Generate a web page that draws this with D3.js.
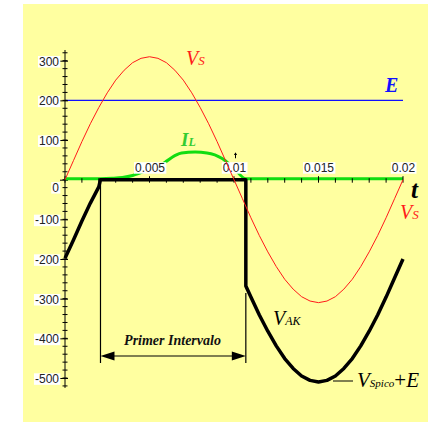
<!DOCTYPE html>
<html>
<head>
<meta charset="utf-8">
<script src="https://cdn.jsdelivr.net/npm/d3@7"></script>
<style>
  body { margin: 0; background: #ffffff; }
  svg { display: block; }
</style>
</head>
<body>
<svg id="chart" width="428" height="422"></svg>
<script>
// Source voltage Vs (V) sampled over one 50 Hz period
const vsTime = [0, 0.0005, 0.001, 0.0015, 0.002, 0.0025, 0.003, 0.0035, 0.004, 0.0045,
  0.005, 0.0055, 0.006, 0.0065, 0.007, 0.0075, 0.008, 0.0085, 0.009, 0.0095,
  0.01, 0.0105, 0.011, 0.0115, 0.012, 0.0125, 0.013, 0.0135, 0.014, 0.0145,
  0.015, 0.0155, 0.016, 0.0165, 0.017, 0.0175, 0.018, 0.0185, 0.019, 0.0195, 0.02];
const vsValues = [0, 48, 96, 141, 182, 219, 251, 276, 295, 306,
  310, 306, 295, 276, 251, 219, 182, 141, 96, 48,
  0, -48, -96, -141, -182, -219, -251, -276, -295, -306,
  -310, -306, -295, -276, -251, -219, -182, -141, -96, -48, 0];

// Battery level E (V)
const eLevel = 200;

// Thyristor anode-cathode voltage V_AK (V)
const vakTime = [0, 0.0005, 0.001, 0.0015, 0.002, 0.0021, 0.0107, 0.0107, 0.011, 0.0115,
  0.012, 0.0125, 0.013, 0.0135, 0.014, 0.0145, 0.015, 0.0155, 0.016, 0.0165,
  0.017, 0.0175, 0.018, 0.0185, 0.019, 0.0195, 0.02];
const vakValues = [-198, -152, -104, -59, -18, 0, 0, -268, -296, -341,
  -382, -419, -451, -476, -495, -506, -510, -506, -495, -476,
  -451, -419, -382, -341, -296, -248, -200];

// Load current I_L (scaled)
const ilTime = [0, 0.0021, 0.0028, 0.0034, 0.0040, 0.0050, 0.0059, 0.0065, 0.0069, 0.0077,
  0.0084, 0.0093, 0.0100, 0.0107, 0.02];
const ilValues = [0, 0, 1, 3, 8, 24, 41, 58, 65, 67,
  65, 51, 26, 0, 0];

// Conduction interval limits (s)
const intervalStart = 0.0021;
const intervalEnd = 0.0107;

// Tick labels
const xTickLabels = [0.005, 0.01, 0.015, 0.02];
const yTickLabels = [300, 200, 100, 0, -100, -200, -300, -400, -500];

const svg = d3.select("#chart");
const serif = "'Liberation Serif', 'Times New Roman', serif";
const sans = "'Liberation Sans', Arial, sans-serif";

// Panel background
svg.append("rect").attr("x", 23).attr("y", 4).attr("width", 405).attr("height", 418)
  .attr("fill", "#ffffa0");

const x = d3.scaleLinear().domain([0, 0.02]).range([65, 403]);
const y = d3.scaleLinear().domain([-500, 300]).range([378, 60.7]);

const zip = (ts, vs) => ts.map((t, i) => [t, vs[i]]);
const line = d3.line().x(d => x(d[0])).y(d => y(d[1]));

// Battery level E
svg.append("line")
  .attr("x1", x(0)).attr("x2", x(0.02))
  .attr("y1", y(eLevel)).attr("y2", y(eLevel))
  .attr("stroke", "#1010ff").attr("stroke-width", 1.4);

// Y axis: main line, minor ticks and labelled ticks
const yAxisG = svg.append("g").attr("transform", `translate(${x(0)},0)`);
yAxisG.append("line").attr("y1", y(327)).attr("y2", y(-525))
  .attr("stroke", "#000").attr("stroke-width", 1);
const yMinor = d3.range(-520, 321, 20);
yAxisG.selectAll("line.minor").data(yMinor).join("line")
  .attr("class", "minor")
  .attr("x1", -2.5).attr("x2", 2.5)
  .attr("y1", d => y(d)).attr("y2", d => y(d))
  .attr("stroke", "#000").attr("stroke-width", 1);

const yAxis = d3.axisLeft(y).tickValues(yTickLabels).tickSize(5).tickPadding(1)
  .tickFormat(d => String(d));
const yAx = svg.append("g").attr("transform", `translate(${x(0)},0)`).call(yAxis);
yAx.select(".domain").remove();
yAx.selectAll(".tick line").attr("x2", -5).attr("x1", 3).attr("stroke", "#000");
yAx.selectAll(".tick text")
  .attr("font-family", sans).attr("font-size", 12).attr("fill", "#222")
  .attr("dy", d => d === 0 ? "0.95em" : "0.36em");

// Load current I_L (green), runs along the time axis when zero
svg.append("path").datum(zip(ilTime, ilValues))
  .attr("d", line.curve(d3.curveMonotoneX))
  .attr("fill", "none").attr("stroke", "#11dd11").attr("stroke-width", 3)
  .attr("transform", "translate(0,-1)");

// V_AK (thick black)
svg.append("path").datum(zip(vakTime, vakValues))
  .attr("d", d3.line().x(d => x(d[0])).y(d => y(d[1])))
  .attr("fill", "none").attr("stroke", "#000").attr("stroke-width", 3.5)
  .attr("stroke-linejoin", "round");

// X axis ticks crossing the zero line
const xAxisG = svg.append("g");
xAxisG.selectAll("line.xt").data(x.ticks(20)).join("line")
  .attr("class", "xt")
  .attr("x1", d => x(d)).attr("x2", d => x(d))
  .attr("y1", d => Math.abs(d / 0.005 - Math.round(d / 0.005)) < 1e-6 ? y(0) - 3.5 : y(0) - 1.5)
  .attr("y2", y(0) + 3)
  .attr("stroke", "#000").attr("stroke-width", 1);

const xAxis = d3.axisTop(x).tickValues(xTickLabels).tickSize(0).tickPadding(8)
  .tickFormat(d => String(+d.toFixed(3)));
const xAx = svg.append("g").attr("transform", `translate(0,${y(0)})`).call(xAxis);
xAx.select(".domain").remove();
xAx.selectAll(".tick text")
  .attr("font-family", sans).attr("font-size", 12).attr("fill", "#222");

// White boxes behind the tick labels
function boxLabels(sel) {
  sel.selectAll(".tick text").each(function () {
    const b = this.getBBox();
    d3.select(this.parentNode).insert("rect", "text")
      .attr("x", b.x - 1).attr("y", b.y + 1.5)
      .attr("width", b.width + 2).attr("height", b.height - 2.5)
      .attr("fill", "#fff");
  });
}
boxLabels(yAx);
boxLabels(xAx);
[yAx, xAx].forEach(g => g.attr("font-size", null).attr("font-family", null));

// Small mark above 0.01
svg.append("path")
  .attr("d", `M${x(0.01) + 1.5},${y(68)} V${y(54)} M${x(0.01)},${y(64)} H${x(0.01) + 3}`)
  .attr("stroke", "#000").attr("stroke-width", 1).attr("fill", "none");

// Source voltage Vs (thin red)
svg.append("path").datum(zip(vsTime, vsValues))
  .attr("d", d3.line().x(d => x(d[0])).y(d => y(d[1])))
  .attr("fill", "none").attr("stroke", "#ff1a1a").attr("stroke-width", 1);

// Conduction interval bracket
const bracketY = 356;
svg.append("line").attr("x1", x(intervalStart)).attr("x2", x(intervalStart))
  .attr("y1", y(0)).attr("y2", 363).attr("stroke", "#000").attr("stroke-width", 1.2);
svg.append("line").attr("x1", x(intervalEnd)).attr("x2", x(intervalEnd))
  .attr("y1", 293).attr("y2", 363).attr("stroke", "#000").attr("stroke-width", 1.2);
svg.append("line").attr("x1", x(intervalStart) + 6).attr("x2", x(intervalEnd) - 6)
  .attr("y1", bracketY).attr("y2", bracketY).attr("stroke", "#000").attr("stroke-width", 1.2);
const xs = x(intervalStart), xe = x(intervalEnd);
svg.append("path")
  .attr("d", `M${xs},${bracketY} L${xs + 14},${bracketY - 4.5} L${xs + 14},${bracketY + 4.5} Z
              M${xe},${bracketY} L${xe - 14},${bracketY - 4.5} L${xe - 14},${bracketY + 4.5} Z`)
  .attr("fill", "#000");

// Text annotations
function label(xp, yp, parts, color) {
  const t = svg.append("text").attr("x", xp).attr("y", yp)
    .attr("font-family", serif).attr("fill", color);
  parts.forEach(p => {
    t.append("tspan").text(p.text)
      .attr("font-size", p.size)
      .attr("font-style", p.italic === false ? "normal" : "italic")
      .attr("font-weight", p.bold ? "bold" : "normal");
  });
  return t;
}

label(186, 65, [{ text: "V", size: 20 }, { text: "S", size: 13 }], "#ff1a1a");
label(400, 219, [{ text: "V", size: 20 }, { text: "S", size: 13 }], "#ff1a1a");
label(385, 92, [{ text: "E", size: 20, bold: true }], "#1010ff");
label(181, 146, [{ text: "I", size: 19, bold: true }, { text: "L", size: 12, bold: true }], "#33cc33");
label(411, 198, [{ text: "t", size: 25, bold: true }], "#000");
label(273, 325, [{ text: "V", size: 20 }, { text: "AK", size: 12 }], "#000");

svg.append("line").attr("x1", 333).attr("x2", 353).attr("y1", 381).attr("y2", 381)
  .attr("stroke", "#000").attr("stroke-width", 1);
label(357, 387, [
  { text: "V", size: 21 }, { text: "Spico", size: 11 },
  { text: "+", size: 21, italic: false }, { text: "E", size: 21 }
], "#000");

svg.append("text").attr("x", 172.5).attr("y", 345)
  .attr("text-anchor", "middle")
  .attr("font-family", serif).attr("font-size", 14)
  .attr("font-weight", "bold").attr("font-style", "italic")
  .attr("fill", "#111").text("Primer Intervalo");
</script>
</body>
</html>
